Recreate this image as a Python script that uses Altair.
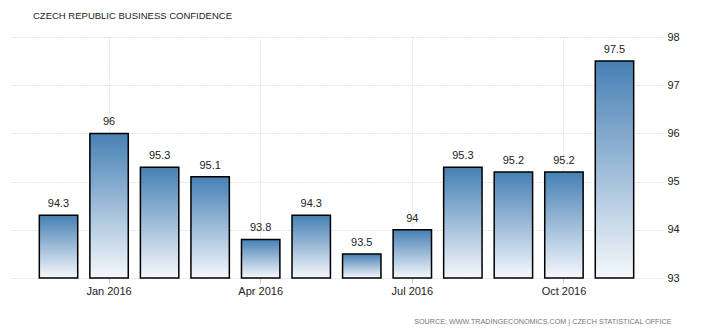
import altair as alt
import pandas as pd

months = ["Dec 2015", "Jan 2016", "Feb 2016", "Mar 2016", "Apr 2016", "May 2016",
          "Jun 2016", "Jul 2016", "Aug 2016", "Sep 2016", "Oct 2016", "Nov 2016"]
values = [94.3, 96.0, 95.3, 95.1, 93.8, 94.3, 93.5, 94.0, 95.3, 95.2, 95.2, 97.5]
labels = ["94.3", "96", "95.3", "95.1", "93.8", "94.3", "93.5", "94", "95.3", "95.2", "95.2", "97.5"]
x_ticks = ["Jan 2016", "Apr 2016", "Jul 2016", "Oct 2016"]
y_ticks = [93, 94, 95, 96, 97, 98]

df = pd.DataFrame({"month": months, "value": values, "label": labels})

FONT = "Liberation Sans"

x = alt.X(
    "month:N",
    sort=months,
    scale=alt.Scale(paddingInner=0.24, paddingOuter=0.58),
    axis=alt.Axis(
        values=x_ticks,
        labelAngle=0,
        grid=True,
        gridColor="#cccccc",
        gridDash=[1, 2],
        bandPosition=0.5,
        domain=False,
        tickColor="#cccccc",
        tickSize=5,
        labelFont=FONT,
        labelFontSize=11,
        labelColor="#222222",
        labelPadding=2,
        title="SOURCE: WWW.TRADINGECONOMICS.COM | CZECH STATISTICAL OFFICE",
        titleFont=FONT,
        titleFontSize=7.2,
        titleFontWeight="normal",
        titleColor="#777777",
        titleAnchor="end",
        titleAlign="right",
        titleBaseline="alphabetic",
        titleX=661,
        titleY=45,
    ),
)

y = alt.Y(
    "value:Q",
    scale=alt.Scale(domain=[93, 98], zero=False, nice=False),
    axis=alt.Axis(
        orient="right",
        values=y_ticks,
        grid=True,
        gridColor="#cccccc",
        gridDash=[1, 2],
        domain=False,
        ticks=False,
        labelPadding=4,
        labelFont=FONT,
        labelFontSize=11,
        labelColor="#222222",
        title=None,
    ),
)

gradient = alt.Gradient(
    gradient="linear",
    stops=[
        alt.GradientStop(color="#4680b4", offset=0),
        alt.GradientStop(color="#f5f8fc", offset=1),
    ],
    x1=0, x2=0, y1=0, y2=1,
)

bars = alt.Chart(df).mark_bar(
    color=gradient, stroke="#000000", strokeWidth=1.5
).encode(x=x, y=y, y2=alt.datum(93))

text = alt.Chart(df).mark_text(
    baseline="bottom", dy=-6, font=FONT, fontSize=11, color="#222222"
).encode(x=alt.X("month:N", sort=months), y="value:Q", text="label:N")

chart = alt.layer(bars, text).properties(
    width=653,
    height=241,
    autosize=alt.AutoSizeParams(type="none"),
    padding={"left": 10, "top": 37, "right": 61, "bottom": 51},
    title=alt.TitleParams(
        "CZECH REPUBLIC BUSINESS CONFIDENCE",
        anchor="start",
        font=FONT,
        fontSize=9.5,
        fontWeight="normal",
        color="#222222",
        dx=23,
        offset=3,
        baseline="alphabetic",
    ),
).configure(background="white", view=alt.ViewConfig(stroke=None))

chart.save("out.html", embed_options={"renderer": "svg", "actions": False})
